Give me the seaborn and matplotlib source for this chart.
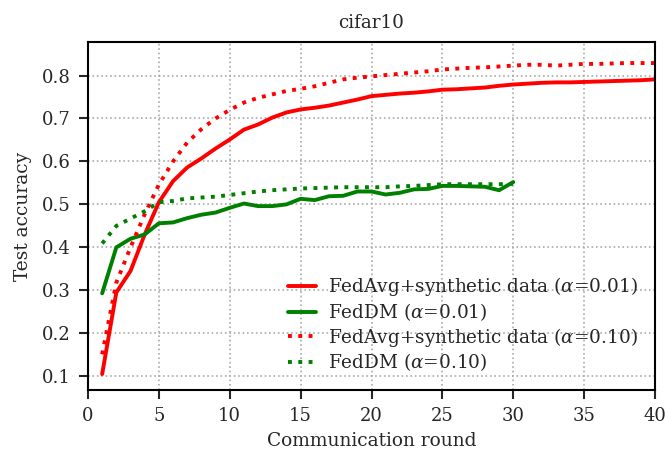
import numpy as np
import pandas as pd
import matplotlib
matplotlib.use("Agg")
import matplotlib.pyplot as plt
import seaborn as sns

rounds40 = list(range(1, 41))
rounds30 = list(range(1, 31))

fedavg_001 = [0.105, 0.295, 0.345, 0.43, 0.505, 0.554, 0.586, 0.607, 0.630, 0.651,
              0.674, 0.686, 0.702, 0.714, 0.721, 0.725, 0.730, 0.737, 0.744, 0.752,
              0.755, 0.758, 0.760, 0.763, 0.767, 0.768, 0.770, 0.772, 0.776, 0.779,
              0.781, 0.783, 0.784, 0.784, 0.785, 0.786, 0.787, 0.788, 0.789, 0.791]
feddm_001 = [0.293, 0.400, 0.420, 0.430, 0.456, 0.458, 0.468, 0.476, 0.481, 0.492,
             0.502, 0.496, 0.496, 0.500, 0.513, 0.510, 0.519, 0.520, 0.530, 0.530,
             0.523, 0.527, 0.535, 0.536, 0.543, 0.543, 0.542, 0.541, 0.533, 0.552]
fedavg_010 = [0.151, 0.318, 0.400, 0.477, 0.546, 0.600, 0.644, 0.675, 0.700, 0.720,
              0.737, 0.748, 0.756, 0.764, 0.769, 0.775, 0.783, 0.791, 0.795, 0.798,
              0.801, 0.804, 0.807, 0.810, 0.814, 0.816, 0.818, 0.819, 0.821, 0.823,
              0.825, 0.825, 0.823, 0.825, 0.827, 0.827, 0.828, 0.829, 0.829, 0.829]
feddm_010 = [0.409, 0.450, 0.467, 0.484, 0.505, 0.508, 0.514, 0.516, 0.518, 0.522,
             0.526, 0.530, 0.533, 0.535, 0.537, 0.538, 0.539, 0.540, 0.540, 0.540,
             0.540, 0.542, 0.543, 0.545, 0.547, 0.547, 0.547, 0.547, 0.547, 0.548]

labels = [r"FedAvg+synthetic data ($\alpha$=0.01)",
          r"FedDM ($\alpha$=0.01)",
          r"FedAvg+synthetic data ($\alpha$=0.10)",
          r"FedDM ($\alpha$=0.10)"]
series = [(rounds40, fedavg_001), (rounds30, feddm_001),
          (rounds40, fedavg_010), (rounds30, feddm_010)]

rows = []
for lab, (xs, ys) in zip(labels, series):
    for x, y in zip(xs, ys):
        rows.append({"round": x, "acc": y, "method": lab})
df = pd.DataFrame(rows)

sns.set_style("ticks")
plt.rcParams["font.family"] = ["DejaVu Serif"]
plt.rcParams["mathtext.fontset"] = "dejavuserif"

fig = plt.figure(figsize=(6.65, 4.54), dpi=100)
ax = fig.add_axes([0.1323, 0.141, 0.8527, 0.7665])

palette = {labels[0]: "red", labels[1]: "green", labels[2]: "red", labels[3]: "green"}
dashes = {labels[0]: "", labels[1]: "", labels[2]: (1, 1.65), labels[3]: (1, 1.65)}
sns.lineplot(data=df, x="round", y="acc", hue="method", style="method",
             hue_order=labels, style_order=labels, palette=palette, dashes=dashes,
             linewidth=2.8, ax=ax)

ax.set_xlim(0, 40)
ax.set_ylim(0.068, 0.878)
ax.set_xticks(range(0, 41, 5))
ax.set_yticks([0.1, 0.2, 0.3, 0.4, 0.5, 0.6, 0.7, 0.8])
ax.grid(True, linestyle=":", color="#aaaaaa", linewidth=1.2)
ax.set_xlabel("Communication round", fontsize=13.4, labelpad=5)
ax.set_ylabel("Test accuracy", fontsize=13.4, labelpad=7)
ax.set_title("cifar10", fontsize=13.2, pad=10)
ax.tick_params(labelsize=13, direction="out", length=6.5, width=1.5, pad=6)
for s in ax.spines.values():
    s.set_linewidth(1.5)
    s.set_color("black")
leg = ax.legend(loc="lower right", frameon=False, fontsize=13.3, handlelength=1.5,
                handletextpad=0.7, borderaxespad=0.5, labelspacing=0.15)
fig.savefig("out.png", dpi=100)
